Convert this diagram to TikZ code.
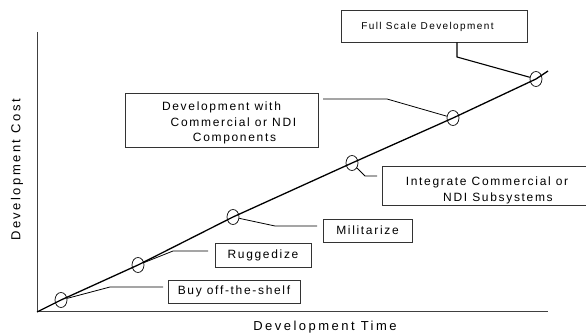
\documentclass[tikz,border=0pt]{standalone}
\usepackage{fontspec}
\setmainfont{Liberation Sans}
\newfontfamily\boxfont[LetterSpace=14]{Liberation Sans}
\newfontfamily\smallboxfont[LetterSpace=14]{Liberation Sans}
\newfontfamily\axisfont[LetterSpace=19]{Liberation Sans}
\usetikzlibrary{shapes.geometric}
\begin{document}
\begin{tikzpicture}[x=1pt,y=-1pt,
  box/.style={draw=black!80,line width=0.8pt,inner sep=0pt,align=center,font=\boxfont\fontsize{12}{15.5}\selectfont},
  pt/.style={draw=black,line width=0.7pt,ellipse,minimum width=12pt,minimum height=15pt,inner sep=0pt},
  axis/.style={draw=black!75,line width=1pt},
  main/.style={draw=black,line width=1.3pt},
  conn/.style={draw=black,line width=0.8pt},
  lbl/.style={font=\axisfont\fontsize{13}{15}\selectfont}]
\useasboundingbox (0,0) rectangle (586,336);
% axes
\coordinate (O) at (37,312);
\coordinate (Ytop) at (37,32);
\coordinate (Xend) at (548,312);
\draw[axis] (Ytop) -- (O) -- (Xend);
\node[lbl,rotate=90] (ylab) at (17,170) {Development Cost};
\node[lbl] (xlab) at (325,327) {Development Time};
% points
\node[pt] (c1) at (61,300) {};
\node[pt] (c2) at (138,265) {};
\node[pt] (c3) at (233,217) {};
\node[pt] (c4) at (352,163) {};
\node[pt] (c5) at (453,118) {};
\node[pt] (c6) at (536,79) {};
\coordinate (E) at (548,71);
\draw[main] (O) -- (c1.center) -- (c2.center) -- (c3.center) -- (c4.center) -- (c5.center) -- (c6.center) -- (E);
% boxes
\node[box,minimum width=186pt,minimum height=32pt,font=\smallboxfont\fontsize{10}{12}\selectfont] (full) at (434,26) {\rule{0pt}{10pt}Full Scale Development\hspace*{13pt}};
\node[box,minimum width=193pt,minimum height=54pt] (dev) at (221.5,120) {\rule{0pt}{14.5pt}Development with\\\hspace*{24pt}Commercial or NDI\\\hspace*{26pt}Components};
\node[box,minimum width=210pt,minimum height=39pt] (integ) at (487,185.5) {\rule{0pt}{18pt}Integrate Commercial or\\\hspace*{22pt}NDI Subsystems};
\node[box,minimum width=89pt,minimum height=23pt] (mil) at (367.5,230.5) {Militarize};
\node[box,minimum width=96pt,minimum height=24pt] (rug) at (263,255) {Ruggedize};
\node[box,minimum width=132pt,minimum height=23pt] (buy) at (234,291.5) {Buy off-the-shelf};
% connectors
\coordinate (b1) at (110,287); \coordinate (e1) at (163,287);
\draw[conn] (c1) -- (b1) -- (e1);
\coordinate (b2) at (173,251); \coordinate (e2) at (208,251);
\draw[conn] (c2) -- (b2) -- (e2);
\coordinate (b3) at (275,226); \coordinate (e3) at (317,226);
\draw[conn] (c3) -- (b3) -- (e3);
\coordinate (b4) at (365,176); \coordinate (e4) at (377,176);
\draw[conn] (c4) -- (b4) -- (e4);
\coordinate (b5) at (387,99); \coordinate (e5) at (323,99);
\draw[conn] (c5) -- (b5) -- (e5);
\coordinate (b6) at (457,57);
\draw[main,line width=1.1pt] (full.south -| b6) -- (b6) -- (c6);
\end{tikzpicture}
\end{document}
